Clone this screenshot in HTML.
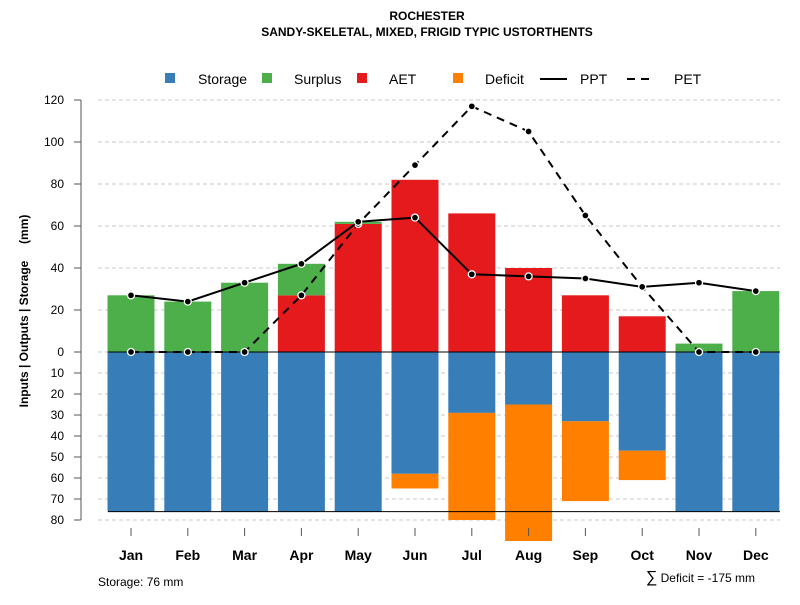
<!DOCTYPE html>
<html><head><meta charset="utf-8"><style>
body{margin:0;background:#fff;}
svg text{font-family:"Liberation Sans",sans-serif;}
</style></head><body>
<svg id="chart" width="800" height="600" xmlns="http://www.w3.org/2000/svg">
<text x="427" y="20" text-anchor="middle" font-size="12" font-weight="bold">ROCHESTER</text>
<text x="427" y="36" text-anchor="middle" font-size="12" font-weight="bold">SANDY-SKELETAL, MIXED, FRIGID TYPIC USTORTHENTS</text>
<g id="grid"></g><g id="bars"></g><g id="lines"></g><g id="axes"></g>
<g font-size="14">
<rect x="165" y="73" width="10" height="10" fill="#377eb8"/><text x="198" y="84">Storage</text>
<rect x="262" y="73" width="10" height="10" fill="#4daf4a"/><text x="294" y="84">Surplus</text>
<rect x="357" y="73" width="10" height="10" fill="#e41a1c"/><text x="389" y="84">AET</text>
<rect x="453" y="73" width="10" height="10" fill="#ff7f00"/><text x="485" y="84">Deficit</text>
<line x1="540" y1="79" x2="567" y2="79" stroke="#000" stroke-width="2"/><text x="580" y="84">PPT</text>
<line x1="627" y1="79" x2="654" y2="79" stroke="#000" stroke-width="2" stroke-dasharray="8,6"/><text x="674" y="84">PET</text>
</g>
<text transform="translate(28,311) rotate(-90)" text-anchor="middle" font-size="12" font-weight="bold" style="white-space:pre">Inputs | Outputs | Storage     (mm)</text>
<text x="98" y="586" font-size="12">Storage: 76 mm</text>
<text x="755" y="582" text-anchor="end" font-size="12"><tspan font-size="16">∑</tspan> Deficit = -175 mm</text>
</svg>
<script>
const months=["Jan","Feb","Mar","Apr","May","Jun","Jul","Aug","Sep","Oct","Nov","Dec"];
const storage=[76,76,76,76,76,58,29,25,33,47,76,76];
const deficit=[0,0,0,0,0,7,51,65,38,14,0,0];
const aet=[0,0,0,27,61,82,66,40,27,17,0,0];
const surplus=[27,24,33,15,1,0,0,0,0,0,4,29];
const ppt=[27,24,33,42,62,64,37,36,35,31,33,29];
const pet=[0,0,0,27,61,89,117,105,65,31,0,0];
const upTicks=[0,20,40,60,80,100,120];
const downTicks=[10,20,30,40,50,60,70,80];
const maxStorage=76;
const NS="http://www.w3.org/2000/svg";
const y0=352,k=2.1;
const yUp=v=>y0-v*k, yDn=v=>y0+v*k;
const xc=i=>131+i*56.8, bw=47;
function mk(t,a,p){const e=document.createElementNS(NS,t);for(const n in a)e.setAttribute(n,a[n]);document.getElementById(p).appendChild(e);return e;}
const gl=[...upTicks.map(yUp),...downTicks.map(yDn)];
gl.forEach(y=>{const l=mk('line',{x1:98,x2:780,y1:y,y2:y,stroke:'#c8c8c8','stroke-dasharray':'4,3'},'grid');

});
months.forEach((m,i)=>{const x=xc(i)-bw/2;
let r=mk('rect',{x:x,y:y0,width:bw,height:storage[i]*k,fill:'#377eb8'},'bars');


if(deficit[i]>0){r=mk('rect',{x:x,y:yDn(storage[i]),width:bw,height:deficit[i]*k,fill:'#ff7f00'},'bars');

}
if(aet[i]>0){r=mk('rect',{x:x,y:yUp(aet[i]),width:bw,height:aet[i]*k,fill:'#e41a1c'},'bars');

}
if(surplus[i]>0){r=mk('rect',{x:x,y:yUp(aet[i]+surplus[i]),width:bw,height:surplus[i]*k,fill:'#4daf4a'},'bars');

}
});
let zl=mk('line',{x1:108,x2:780,y1:y0,y2:y0,stroke:'#000','stroke-width':1},'bars');


let sl=mk('line',{x1:108,x2:780,y1:yDn(maxStorage),y2:yDn(maxStorage),stroke:'#000','stroke-width':1},'bars');


function series(arr,name,dash){
 const p=mk('polyline',{points:arr.map((v,i)=>xc(i)+','+yUp(v)).join(' '),fill:'none',stroke:'#000','stroke-width':2,'stroke-dasharray':dash},'lines');
 
 
 arr.forEach((v,i)=>{const c=mk('circle',{cx:xc(i),cy:yUp(v),r:3.5,fill:'#000',stroke:'#fff','stroke-width':1.3},'lines');
 
 });
}
series(pet,'pet','8,6');series(ppt,'ppt','none');
let ax=mk('line',{x1:81,x2:81,y1:yUp(120),y2:yDn(80),stroke:'#555','stroke-width':1},'axes');


function tick(y,lab){const t=mk('line',{x1:74,x2:81,y1:y,y2:y,stroke:'#555'},'axes');


const tx=mk('text',{x:64,y:y+4,'text-anchor':'end','font-size':12},'axes');tx.textContent=lab;

}
upTicks.forEach(v=>tick(yUp(v),v));downTicks.forEach(v=>tick(yDn(v),v));
months.forEach((m,i)=>{const t=mk('line',{x1:xc(i),x2:xc(i),y1:528,y2:536,stroke:'#555'},'axes');


const tx=mk('text',{x:xc(i),y:560,'text-anchor':'middle','font-size':14,'font-weight':'bold'},'axes');tx.textContent=m;

});
</script>
</body></html>
